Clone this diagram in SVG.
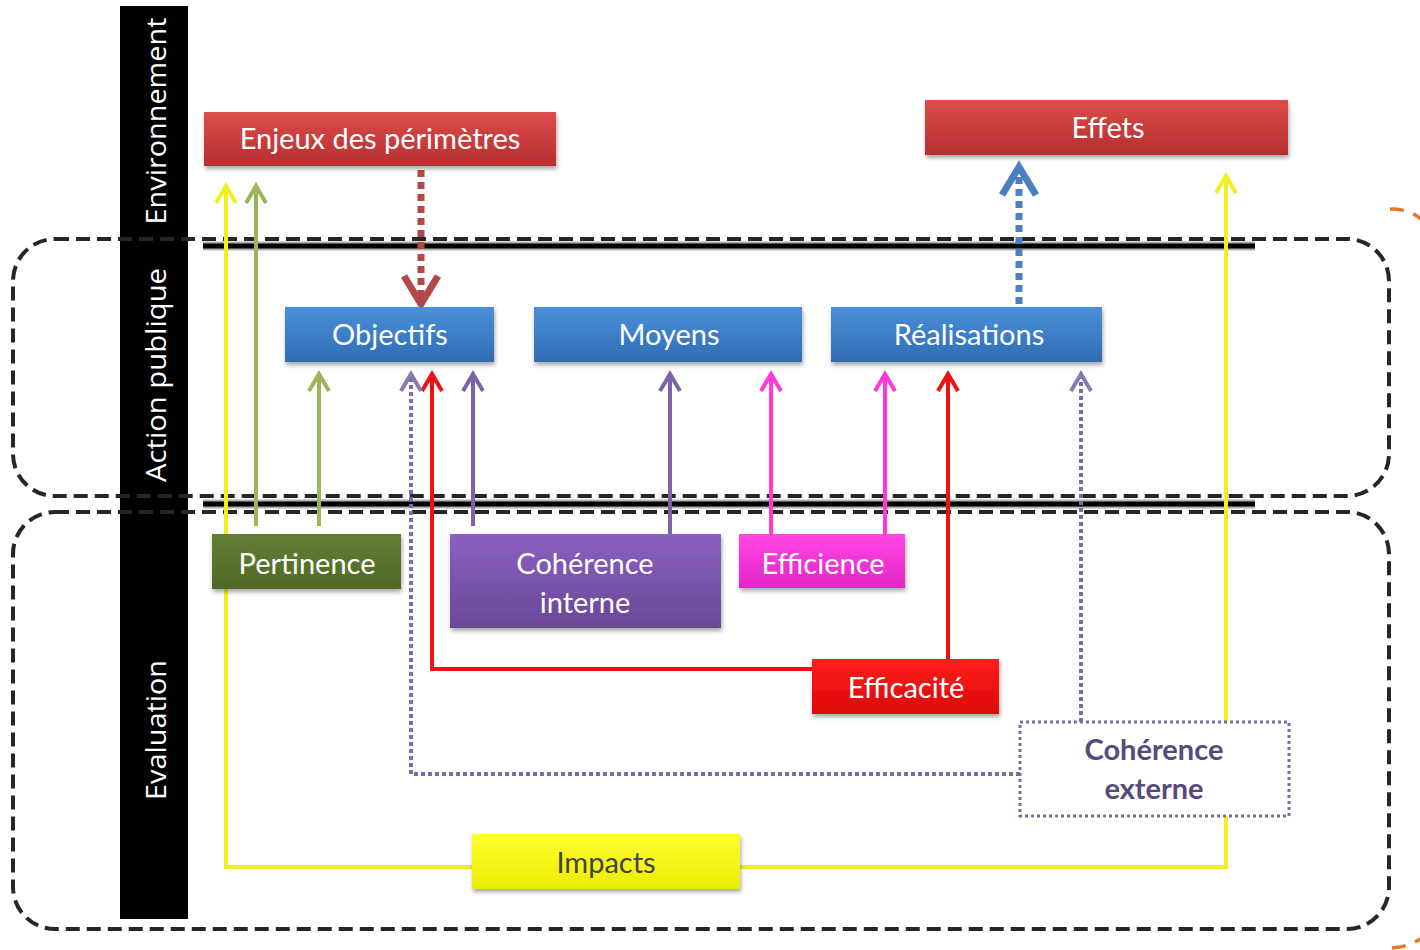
<svg xmlns="http://www.w3.org/2000/svg" width="1420" height="950" viewBox="0 0 1420 950">
<style>
.lbl{font-family:Lato,"Open Sans","Liberation Sans",sans-serif;font-size:29px;fill:#ffffff;text-anchor:middle}
.side{font-family:"Open Sans","Liberation Sans",sans-serif;font-size:27px;fill:#ffffff;text-anchor:middle}
.sep{fill:none;stroke:#262626;stroke-width:4;stroke-dasharray:14 7}
.bl{stroke:#000;stroke-width:5}
.bls{stroke:#b0b0b0;stroke-width:9}
.c{fill:none;stroke-width:4}
.y{stroke:#f0f020}
.g{stroke:#9ab55a}
.p{stroke:#7d62a8}
.m{stroke:#ff38d8}
.r{stroke:#ee1111}
.pd{stroke:#7a6aa8;stroke-dasharray:4 3}
.box{filter:url(#sh)}
</style>
<defs>
<filter id="sh" x="-10%" y="-20%" width="120%" height="150%"><feDropShadow dx="1" dy="3" stdDeviation="2" flood-color="#000" flood-opacity="0.35"/></filter>
<linearGradient id="gRed" x1="0" y1="0" x2="0" y2="1"><stop offset="0" stop-color="#dc4c4a"/><stop offset="1" stop-color="#b42f2e"/></linearGradient>
<linearGradient id="gBlue" x1="0" y1="0" x2="0" y2="1"><stop offset="0" stop-color="#4a90da"/><stop offset="1" stop-color="#2f6cb3"/></linearGradient>
<linearGradient id="gGreen" x1="0" y1="0" x2="0" y2="1"><stop offset="0" stop-color="#647f34"/><stop offset="1" stop-color="#4f6826"/></linearGradient>
<linearGradient id="gPurple" x1="0" y1="0" x2="0" y2="1"><stop offset="0" stop-color="#8a60c2"/><stop offset="1" stop-color="#6a4896"/></linearGradient>
<linearGradient id="gMag" x1="0" y1="0" x2="0" y2="1"><stop offset="0" stop-color="#ff48e6"/><stop offset="1" stop-color="#e424c6"/></linearGradient>
<linearGradient id="gRed2" x1="0" y1="0" x2="0" y2="1"><stop offset="0" stop-color="#ff1e1e"/><stop offset="1" stop-color="#dc0808"/></linearGradient>
<linearGradient id="gYel" x1="0" y1="0" x2="0" y2="1"><stop offset="0" stop-color="#ffff30"/><stop offset="1" stop-color="#ecec00"/></linearGradient>
<marker id="aY" markerUnits="userSpaceOnUse" viewBox="0 0 24 24" markerWidth="24" markerHeight="24" refX="20" refY="12" orient="auto"><path d="M3,2 L20,12 L3,22" fill="none" stroke="#f0f020" stroke-width="4"/></marker>
<marker id="aG" markerUnits="userSpaceOnUse" viewBox="0 0 24 24" markerWidth="24" markerHeight="24" refX="20" refY="12" orient="auto"><path d="M3,2 L20,12 L3,22" fill="none" stroke="#9ab55a" stroke-width="4"/></marker>
<marker id="aP" markerUnits="userSpaceOnUse" viewBox="0 0 24 24" markerWidth="24" markerHeight="24" refX="20" refY="12" orient="auto"><path d="M3,2 L20,12 L3,22" fill="none" stroke="#7d62a8" stroke-width="4"/></marker>
<marker id="aPd" markerUnits="userSpaceOnUse" viewBox="0 0 24 24" markerWidth="24" markerHeight="24" refX="20" refY="12" orient="auto"><path d="M3,2 L20,12 L3,22" fill="none" stroke="#8a78b4" stroke-width="4"/></marker>
<marker id="aM" markerUnits="userSpaceOnUse" viewBox="0 0 24 24" markerWidth="24" markerHeight="24" refX="20" refY="12" orient="auto"><path d="M3,2 L20,12 L3,22" fill="none" stroke="#ff38d8" stroke-width="4"/></marker>
<marker id="aR" markerUnits="userSpaceOnUse" viewBox="0 0 24 24" markerWidth="24" markerHeight="24" refX="20" refY="12" orient="auto"><path d="M3,2 L20,12 L3,22" fill="none" stroke="#ee1111" stroke-width="4"/></marker>
<marker id="aDR" markerUnits="userSpaceOnUse" viewBox="0 0 40 40" markerWidth="40" markerHeight="40" refX="33" refY="20" orient="auto"><path d="M5,3 L33,20 L5,37" fill="none" stroke="#b24848" stroke-width="7"/></marker>
<marker id="aB" markerUnits="userSpaceOnUse" viewBox="0 0 40 40" markerWidth="40" markerHeight="40" refX="33" refY="20" orient="auto"><path d="M5,3 L33,20 L5,37" fill="none" stroke="#4a80c2" stroke-width="7"/></marker>
</defs>
<rect width="1420" height="950" fill="#ffffff"/>

<g id="band">
<rect x="120" y="6" width="68" height="913" fill="#000"/>
<text class="side" transform="translate(166,121) rotate(-90)" textLength="207" lengthAdjust="spacingAndGlyphs">Environnement</text>
<text class="side" transform="translate(166,375) rotate(-90)" textLength="214" lengthAdjust="spacingAndGlyphs">Action publique</text>
<text class="side" transform="translate(166,730) rotate(-90)" textLength="140" lengthAdjust="spacingAndGlyphs">Evaluation</text>
</g>

<g id="separators">
<line class="bls" x1="203" y1="246" x2="1255" y2="246"/>
<line class="bl" x1="203" y1="246" x2="1255" y2="246"/>
<line class="bls" x1="203" y1="504" x2="1255" y2="504"/>
<line class="bl" x1="203" y1="504" x2="1255" y2="504"/>
<rect class="sep" x="13" y="239" width="1376" height="257" rx="42"/>
<rect class="sep" x="13" y="512" width="1376" height="417" rx="42"/>
<path d="M1390,209 C1404,209 1416,212 1428,226" fill="none" stroke="#e87722" stroke-width="3.5" stroke-dasharray="14 10"/>
<path d="M1392,948 C1404,947 1414,944 1428,934" fill="none" stroke="#e87722" stroke-width="3.5" stroke-dasharray="14 10"/>
</g>

<g id="connectors">
<path class="c y" d="M472,867 H226 V186" marker-end="url(#aY)"/>
<path class="c y" d="M740,867 H1226 V176" marker-end="url(#aY)"/>
<path class="c g" d="M256,526 V186" marker-end="url(#aG)"/>
<path class="c g" d="M319,526 V374" marker-end="url(#aG)"/>
<path class="c p" d="M473,526 V374" marker-end="url(#aP)"/>
<path class="c p" d="M670,535 V374" marker-end="url(#aP)"/>
<path class="c m" d="M771,535 V374" marker-end="url(#aM)"/>
<path class="c m" d="M885,535 V374" marker-end="url(#aM)"/>
<path class="c r" d="M812,669 H432 V374" marker-end="url(#aR)"/>
<path class="c r" d="M948,660 V374" marker-end="url(#aR)"/>
<path class="c pd" d="M1020,774 H411 V374" marker-end="url(#aPd)"/>
<path class="c pd" d="M1081,722 V374" marker-end="url(#aPd)"/>
<path d="M421,170 V304" fill="none" stroke="#b24848" stroke-width="7" stroke-dasharray="7 5" marker-end="url(#aDR)"/>
<path d="M1019,304 V167" fill="none" stroke="#4a80c2" stroke-width="7" stroke-dasharray="7 5" marker-end="url(#aB)"/>
</g>

<g id="enjeux"><rect class="box" x="204" y="112" width="352" height="54" fill="url(#gRed)"/><text class="lbl" x="380" y="149">Enjeux des périmètres</text></g>
<g id="effets"><rect class="box" x="925" y="100" width="363" height="55" fill="url(#gRed)"/><text class="lbl" x="1108" y="138">Effets</text></g>
<g id="objectifs"><rect class="box" x="285" y="307" width="209" height="55" fill="url(#gBlue)"/><text class="lbl" x="390" y="345">Objectifs</text></g>
<g id="moyens"><rect class="box" x="534" y="307" width="268" height="55" fill="url(#gBlue)"/><text class="lbl" x="669" y="345">Moyens</text></g>
<g id="realisations"><rect class="box" x="831" y="307" width="271" height="55" fill="url(#gBlue)"/><text class="lbl" x="969" y="345">Réalisations</text></g>
<g id="pertinence"><rect class="box" x="212" y="534" width="189" height="55" fill="url(#gGreen)"/><text class="lbl" x="307" y="574">Pertinence</text></g>
<g id="coherence-interne"><rect class="box" x="450" y="534" width="271" height="94" fill="url(#gPurple)"/><text class="lbl" x="585" y="574">Cohérence</text><text class="lbl" x="585" y="613">interne</text></g>
<g id="efficience"><rect class="box" x="739" y="534" width="166" height="54" fill="url(#gMag)"/><text class="lbl" x="823" y="574">Efficience</text></g>
<g id="efficacite"><rect class="box" x="812" y="659" width="187" height="55" fill="url(#gRed2)"/><text class="lbl" x="906" y="698">Efficacité</text></g>
<g id="coherence-externe"><rect x="1020" y="722" width="269" height="94" fill="#ffffff" stroke="#7a6aa8" stroke-width="3" stroke-dasharray="3 3"/><text class="lbl" x="1154" y="760" style="fill:#564a7c;font-weight:bold">Cohérence</text><text class="lbl" x="1154" y="799" style="fill:#564a7c;font-weight:bold">externe</text></g>
<g id="impacts"><rect class="box" x="472" y="834" width="268" height="55" fill="url(#gYel)"/><text class="lbl" x="606" y="873" style="fill:#444444">Impacts</text></g>
</svg>
